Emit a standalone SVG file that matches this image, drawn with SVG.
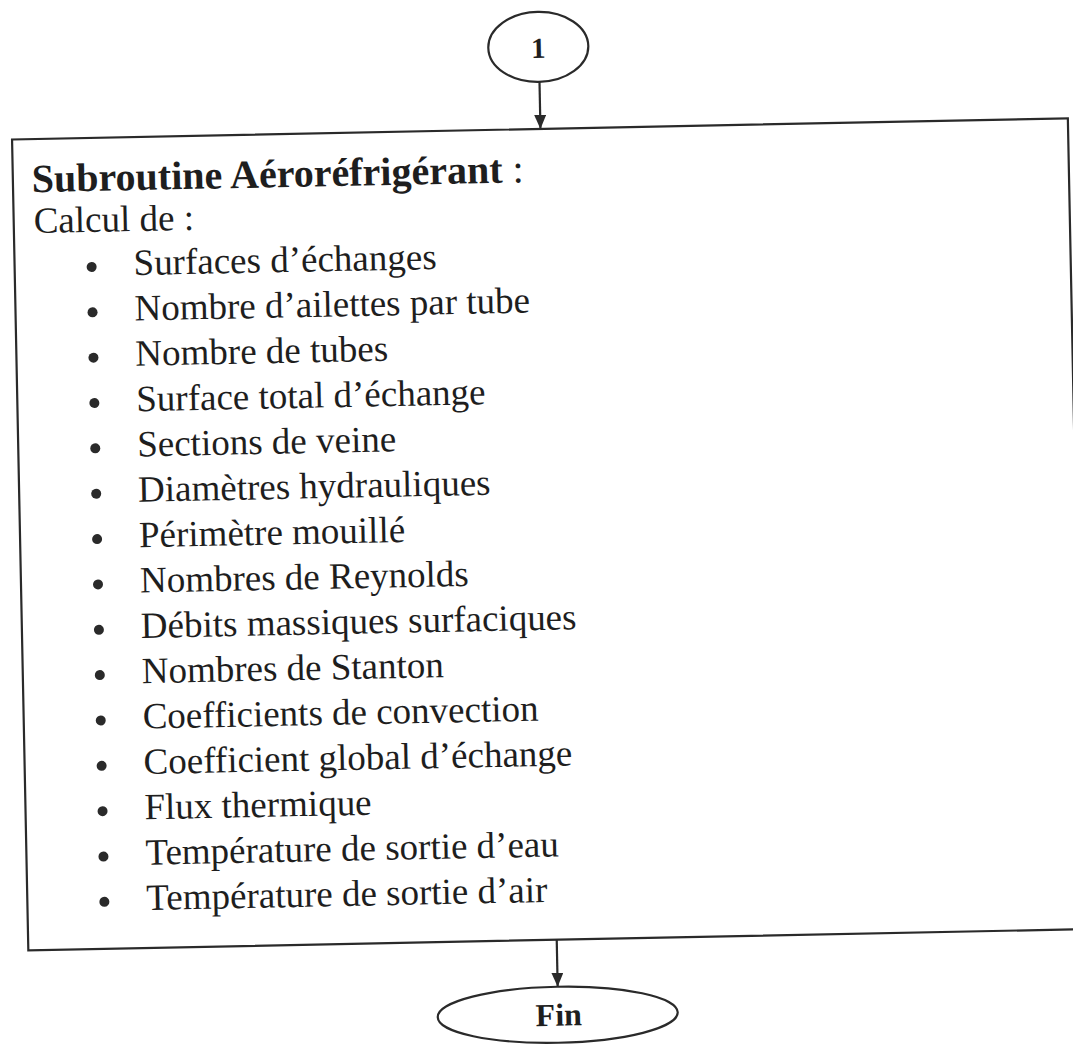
<svg xmlns="http://www.w3.org/2000/svg" width="1073" height="1058" viewBox="0 0 1073 1058">
<style>
.ln{fill:none;stroke:#2a2a2a;stroke-width:2.2}
.sh{fill:#fff;stroke:#2a2a2a;stroke-width:2.2}
.t{font-family:"Liberation Serif","Times New Roman",serif;fill:#1e1e1e}
.it{font-size:37px}
.b{fill:#2a2a2a}
</style>
<defs>
<marker id="ah" viewBox="0 0 10 10" refX="10" refY="5" markerWidth="10" markerHeight="10" markerUnits="userSpaceOnUse" orient="auto">
<path d="M0,0 L10,5 L0,10 z" fill="#2a2a2a"/>
</marker>
<marker id="ah2" viewBox="0 0 14 12" refX="14" refY="6" markerWidth="14" markerHeight="12" markerUnits="userSpaceOnUse" orient="auto">
<path d="M0,0 L14,6 L0,12 z" fill="#2a2a2a"/>
</marker>
</defs>
<rect width="1073" height="1058" fill="#fff"/>
<g transform="rotate(-1.15 540 530)">
<g id="connectors">
<line class="ln" x1="548.5" y1="82" x2="548.5" y2="129" marker-end="url(#ah2)"/>
<line class="ln" x1="548.5" y1="940" x2="548.5" y2="987" marker-end="url(#ah2)"/>
</g>
<g id="start">
<ellipse class="sh" cx="548" cy="47" rx="50" ry="35"/>
<text class="t" x="548" y="58" font-size="29" font-weight="bold" text-anchor="middle">1</text>
</g>
<g id="subroutine">
<rect class="sh" x="20" y="129" width="1056" height="811"/>
<text class="t" x="39" y="182" font-size="40" font-weight="bold">Subroutine Aéroréfrigérant<tspan font-weight="normal"> :</tspan></text>
<text class="t it" x="40" y="223">Calcul de :</text>
<g class="b">
<circle cx="97" cy="258" r="5"/>
<circle cx="97" cy="303.4" r="5"/>
<circle cx="97" cy="348.7" r="5"/>
<circle cx="97" cy="394.1" r="5"/>
<circle cx="97" cy="439.4" r="5"/>
<circle cx="97" cy="484.8" r="5"/>
<circle cx="97" cy="530.2" r="5"/>
<circle cx="97" cy="575.5" r="5"/>
<circle cx="97" cy="620.9" r="5"/>
<circle cx="97" cy="666.2" r="5"/>
<circle cx="97" cy="711.6" r="5"/>
<circle cx="97" cy="757" r="5"/>
<circle cx="97" cy="802.3" r="5"/>
<circle cx="97" cy="847.7" r="5"/>
<circle cx="97" cy="893" r="5"/>
</g>
<text class="t it" x="139" y="267">Surfaces d’échanges</text>
<text class="t it" x="139" y="312.4">Nombre d’ailettes par tube</text>
<text class="t it" x="139" y="357.7">Nombre de tubes</text>
<text class="t it" x="139" y="403.1">Surface total d’échange</text>
<text class="t it" x="139" y="448.4">Sections de veine</text>
<text class="t it" x="139" y="493.8">Diamètres hydrauliques</text>
<text class="t it" x="139" y="539.2">Périmètre mouillé</text>
<text class="t it" x="139" y="584.5">Nombres de Reynolds</text>
<text class="t it" x="139" y="629.9">Débits massiques surfaciques</text>
<text class="t it" x="139" y="675.2">Nombres de Stanton</text>
<text class="t it" x="139" y="720.6">Coefficients de convection</text>
<text class="t it" x="139" y="766">Coefficient global d’échange</text>
<text class="t it" x="139" y="811.3">Flux thermique</text>
<text class="t it" x="139" y="856.7">Température de sortie d’eau</text>
<text class="t it" x="139" y="902">Température de sortie d’air</text>
</g>
<g id="end">
<ellipse class="sh" cx="548" cy="1015" rx="120" ry="28"/>
<text class="t" x="549" y="1026" font-size="32" font-weight="bold" text-anchor="middle">Fin</text>
</g>
</g>
</svg>
